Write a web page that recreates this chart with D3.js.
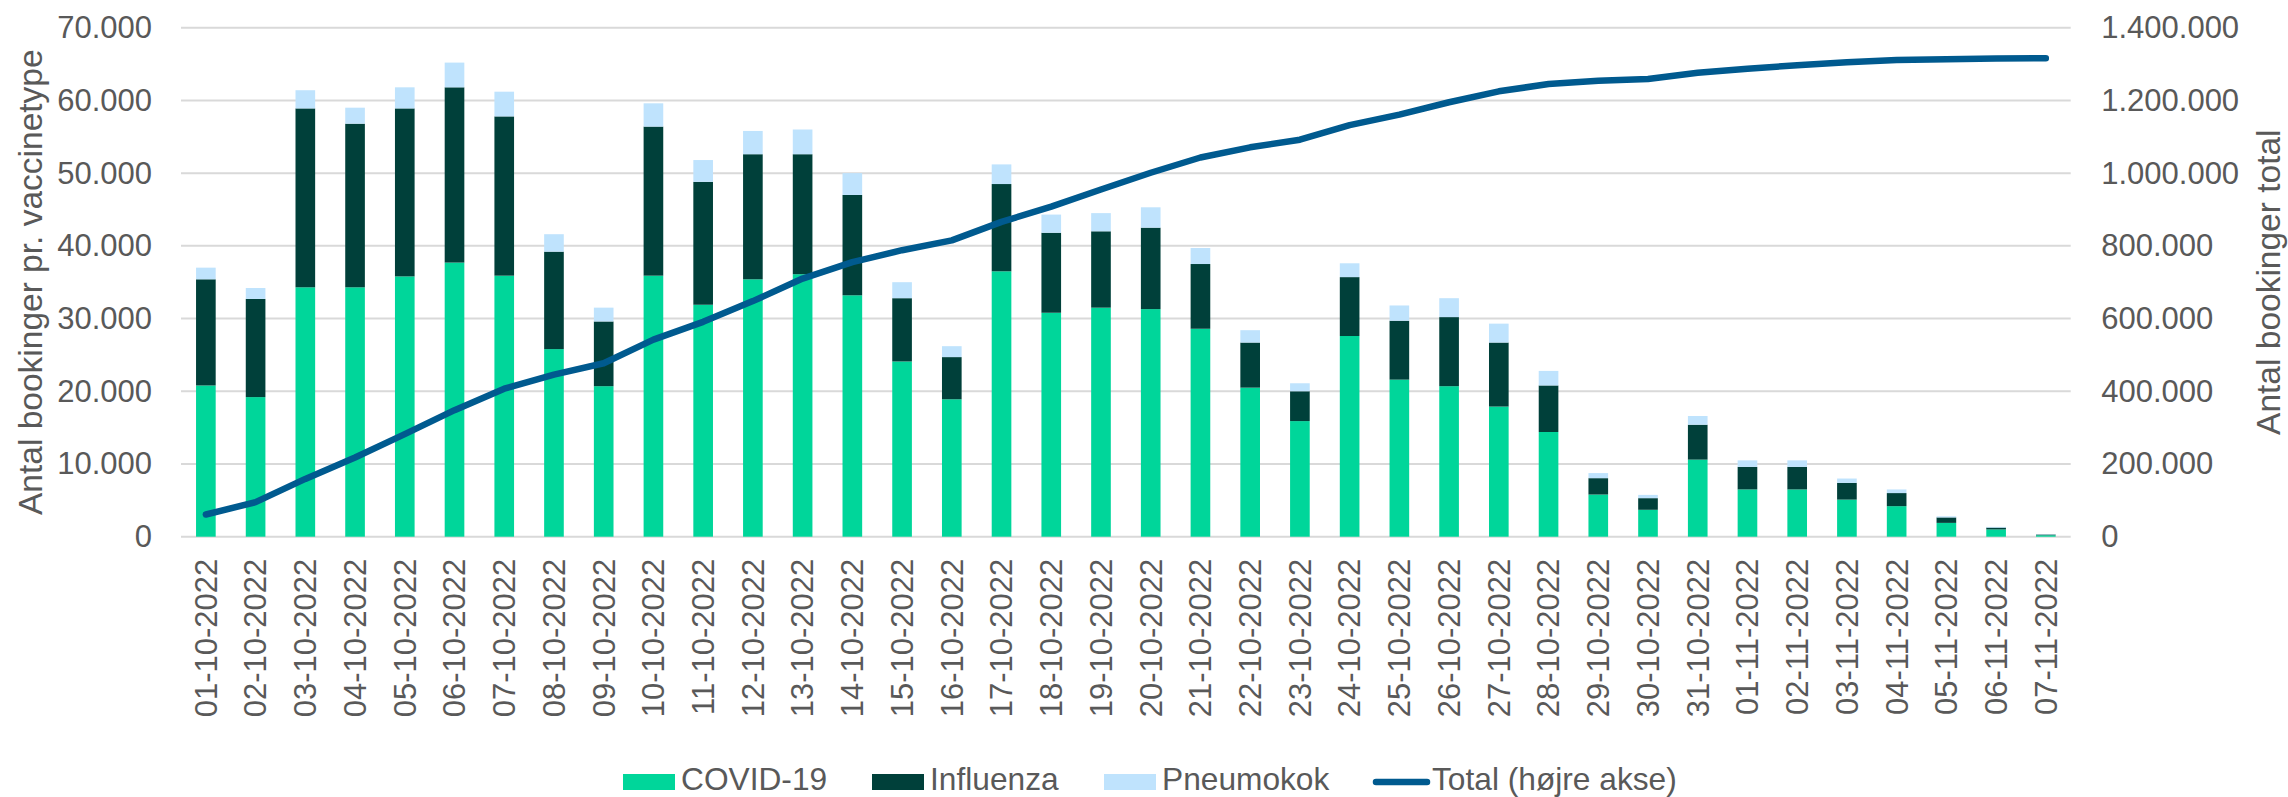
<!DOCTYPE html>
<html>
<head>
<meta charset="utf-8">
<script src="https://cdn.jsdelivr.net/npm/d3@7"></script>
<style>
  body { margin: 0; background: #fff; }
  text { font-family: 'Liberation Sans', Arial, sans-serif; fill: #595959; }
</style>
</head>
<body>
<div id="chart"></div>
<script>
const dates = [
  '01-10-2022', '02-10-2022', '03-10-2022', '04-10-2022', '05-10-2022', '06-10-2022',
  '07-10-2022', '08-10-2022', '09-10-2022', '10-10-2022', '11-10-2022', '12-10-2022',
  '13-10-2022', '14-10-2022', '15-10-2022', '16-10-2022', '17-10-2022', '18-10-2022',
  '19-10-2022', '20-10-2022', '21-10-2022', '22-10-2022', '23-10-2022', '24-10-2022',
  '25-10-2022', '26-10-2022', '27-10-2022', '28-10-2022', '29-10-2022', '30-10-2022',
  '31-10-2022', '01-11-2022', '02-11-2022', '03-11-2022', '04-11-2022', '05-11-2022',
  '06-11-2022', '07-11-2022'
]

const covid = [
  20800, 19200, 34300, 34300, 35800, 37700, 35900, 25800, 20700, 35900, 31900, 35400,
  36100, 33200, 24100, 18900, 36500, 30800, 31500, 31300, 28600, 20500, 15900, 27600,
  21600, 20700, 17900, 14400, 5800, 3700, 10600, 6500, 6500, 5100, 4200, 1900,
  1000, 200
]

const influenza = [
  14600, 13500, 24600, 22500, 23100, 24100, 21900, 13400, 8900, 20500, 16900, 17200,
  16500, 13800, 8700, 5800, 12000, 11000, 10500, 11200, 8900, 6200, 4100, 8100,
  8100, 9500, 8800, 6400, 2250, 1600, 4800, 3100, 3100, 2300, 1800, 750,
  250, 100
]

const pneumokok = [
  1600, 1500, 2500, 2200, 2900, 3400, 3400, 2400, 1900, 3200, 3000, 3200,
  3400, 3000, 2200, 1500, 2700, 2500, 2500, 2800, 2200, 1700, 1100, 1900,
  2100, 2600, 2600, 2000, 700, 450, 1200, 900, 900, 600, 500, 150,
  100, 50
]

const total = [
  61000, 95000, 159000, 218000, 282000, 348000, 407000, 446000, 477000, 542000, 591000, 648000,
  710000, 755000, 788000, 815000, 866000, 908000, 955000, 1001000, 1043000, 1071000, 1092000, 1132000,
  1161000, 1195000, 1225000, 1245000, 1254000, 1259000, 1276000, 1287000, 1297000, 1305000, 1311000, 1313000,
  1315000, 1316000
]

const leftTicks = [0, 10000, 20000, 30000, 40000, 50000, 60000, 70000]
const rightTicks = [0, 200000, 400000, 600000, 800000, 1000000, 1200000, 1400000]

const keys = ['COVID-19', 'Influenza', 'Pneumokok']
const colors = ['#00d69a', '#00403a', '#bfe3fd']
const lineColor = '#005a8f'

const W = 2288
const H = 797
const margin = { top: 27.7, left: 181, right: 217.3, bottom: 260.3 }
const width = W - margin.left - margin.right
const height = H - margin.top - margin.bottom

const fmt = v => d3.format(',')(v).replace(/,/g, '.')

const svg = d3
  .select('#chart')
  .append('svg')
  .attr('width', W)
  .attr('height', H)

const g = svg.append('g').attr('transform', `translate(${margin.left},${margin.top})`)

const x = d3
  .scaleBand()
  .domain(dates)
  .range([0, width])
  .paddingInner(0.605)
  .paddingOuter(0.3025)

const y = d3.scaleLinear().domain([0, 70000]).range([height, 0])
const y2 = d3.scaleLinear().domain([0, 1400000]).range([height, 0])

// gridlines
g.append('g')
  .selectAll('line')
  .data(leftTicks)
  .enter()
  .append('line')
  .attr('x1', 0)
  .attr('x2', width)
  .attr('y1', d => y(d))
  .attr('y2', d => y(d))
  .attr('stroke', '#d9d9d9')
  .attr('stroke-width', 2)

// left axis
const yAxis = g.append('g')
  .call(d3.axisLeft(y).tickValues(leftTicks).tickFormat(fmt).tickSize(0).tickPadding(29))
yAxis.select('.domain').remove()
yAxis.selectAll('text').style('font-size', '31px').attr('fill', '#595959')

// right axis
const yAxis2 = g.append('g')
  .attr('transform', `translate(${width},0)`)
  .call(d3.axisRight(y2).tickValues(rightTicks).tickFormat(fmt).tickSize(0).tickPadding(30.5))
yAxis2.select('.domain').remove()
yAxis2.selectAll('text').style('font-size', '31px').attr('fill', '#595959')

// stacked bars
const rows = dates.map((d, i) => ({
  date: d,
  'COVID-19': covid[i],
  Influenza: influenza[i],
  Pneumokok: pneumokok[i]
}))
const stacked = d3.stack().keys(keys)(rows)

g.append('g')
  .selectAll('g')
  .data(stacked)
  .enter()
  .append('g')
  .attr('fill', (d, i) => colors[i])
  .selectAll('rect')
  .data(d => d)
  .enter()
  .append('rect')
  .attr('x', d => x(d.data.date))
  .attr('width', x.bandwidth())
  .attr('y', d => y(d[1]))
  .attr('height', d => y(d[0]) - y(d[1]))

// total line
const line = d3
  .line()
  .x((d, i) => x(dates[i]) + x.bandwidth() / 2)
  .y(d => y2(d))

g.append('path')
  .datum(total)
  .attr('d', line)
  .attr('fill', 'none')
  .attr('stroke', lineColor)
  .attr('stroke-width', 6.5)
  .attr('stroke-linejoin', 'round')
  .attr('stroke-linecap', 'round')

// x labels
g.append('g')
  .selectAll('text')
  .data(dates)
  .enter()
  .append('text')
  .text(d => d)
  .attr('transform', d => `translate(${x(d) + x.bandwidth() / 2},${height + 22}) rotate(-90)`)
  .attr('text-anchor', 'end')
  .attr('dy', '0.35em')
  .style('font-size', '31px')

// axis titles
svg.append('text')
  .text('Antal bookinger pr. vaccinetype')
  .attr('transform', `translate(41.5,${margin.top + height / 2}) rotate(-90)`)
  .attr('text-anchor', 'middle')
  .style('font-size', '33.5px')

svg.append('text')
  .text('Antal bookinger total')
  .attr('transform', `translate(2279.5,${margin.top + height / 2}) rotate(-90)`)
  .attr('text-anchor', 'middle')
  .style('font-size', '33.5px')

// legend
const legendX = [623, 872, 1104, 1374]
const legendItems = keys.map((k, i) => ({ name: k, color: colors[i], type: 'rect' }))
legendItems.push({ name: 'Total (højre akse)', color: lineColor, type: 'line' })

legendItems.forEach((item, i) => {
  const item_g = svg.append('g').attr('transform', `translate(${legendX[i]},790)`)
  if (item.type === 'rect') {
    item_g.append('rect')
      .attr('x', 0)
      .attr('y', -16)
      .attr('width', 52)
      .attr('height', 16)
      .attr('fill', item.color)
  } else {
    item_g.append('line')
      .attr('x1', 2)
      .attr('x2', 53)
      .attr('y1', -8)
      .attr('y2', -8)
      .attr('stroke', item.color)
      .attr('stroke-width', 6.5)
      .attr('stroke-linecap', 'round')
  }
  item_g.append('text')
    .text(item.name)
    .attr('x', 58)
    .style('font-size', '31.7px')
})
</script>
</body>
</html>
